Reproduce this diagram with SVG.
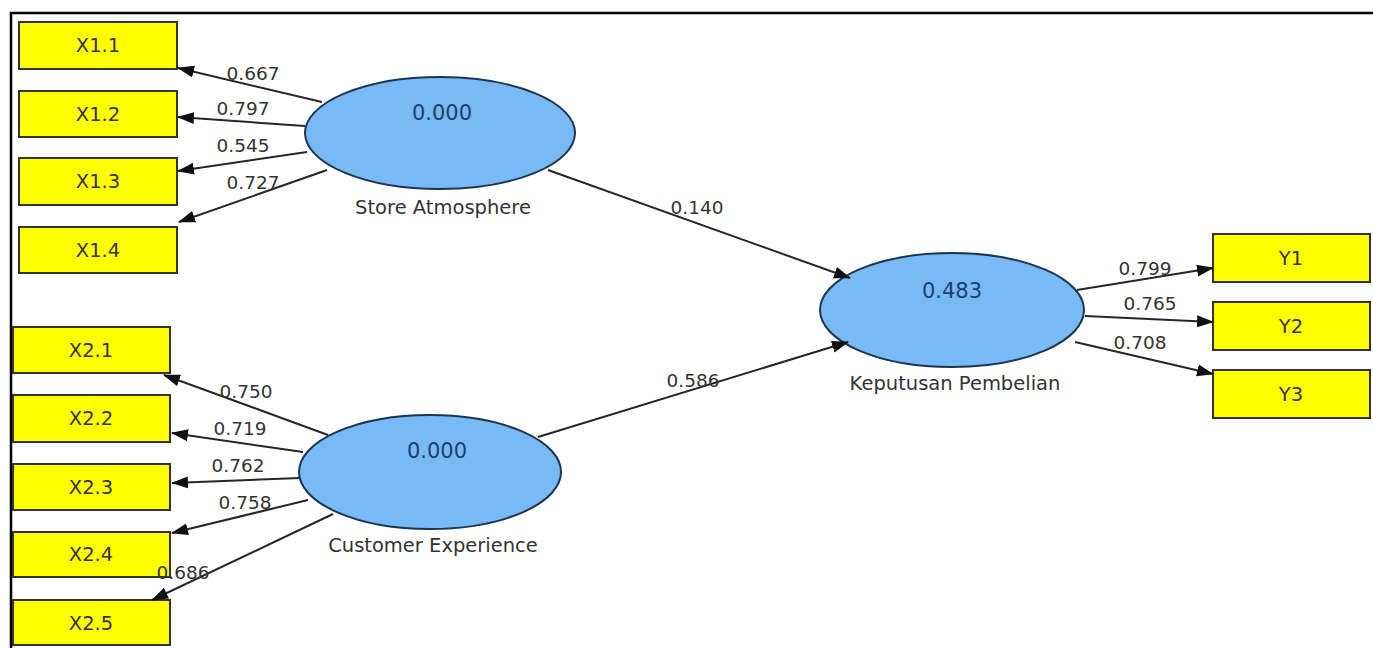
<svg xmlns="http://www.w3.org/2000/svg" width="1373" height="648" viewBox="0 0 1373 648">
<style>
.ind{fill:#ffff00;stroke:#333;stroke-width:2}
.lat{fill:#78baf5;stroke:#1c3650;stroke-width:2}
.t{font-family:"DejaVu Sans","Liberation Sans",sans-serif;font-size:19.5px;fill:#333;text-anchor:middle}
.n{font-family:"DejaVu Sans","Liberation Sans",sans-serif;font-size:19.5px;fill:#333;text-anchor:middle}
.v{font-family:"DejaVu Sans","Liberation Sans",sans-serif;font-size:21px;fill:#1d3f6e;text-anchor:middle}
.c{stroke:#262626;stroke-width:2;fill:none;marker-end:url(#ah)}
.w{font-family:"DejaVu Sans","Liberation Sans",sans-serif;font-size:18.5px;fill:#333;text-anchor:middle}
</style>
<defs>
<marker id="ah" markerUnits="userSpaceOnUse" markerWidth="17" markerHeight="13" refX="16" refY="6.5" orient="auto">
<path d="M0,0.5 L17,6.5 L0,12.5 Z" fill="#111"/>
</marker>
</defs>
<rect width="1373" height="648" fill="#fff"/>
<path d="M11,648 V13 H1373" fill="none" stroke="#000" stroke-width="2.5"/>

<g id="x11"><rect class="ind" x="19" y="22" width="158" height="47"/><text class="t" x="98" y="52">X1.1</text></g>
<g id="x12"><rect class="ind" x="19" y="91" width="158" height="46"/><text class="t" x="98" y="121">X1.2</text></g>
<g id="x13"><rect class="ind" x="19" y="158" width="158" height="47"/><text class="t" x="98" y="188">X1.3</text></g>
<g id="x14"><rect class="ind" x="19" y="227" width="158" height="46"/><text class="t" x="98" y="257">X1.4</text></g>

<g id="x21"><rect class="ind" x="13" y="327" width="157" height="46"/><text class="t" x="91" y="357">X2.1</text></g>
<g id="x22"><rect class="ind" x="13" y="395" width="157" height="47"/><text class="t" x="91" y="425">X2.2</text></g>
<g id="x23"><rect class="ind" x="13" y="464" width="157" height="46"/><text class="t" x="91" y="494">X2.3</text></g>
<g id="x24"><rect class="ind" x="13" y="532" width="157" height="45"/><text class="t" x="91" y="561">X2.4</text></g>
<g id="x25"><rect class="ind" x="13" y="600" width="157" height="45"/><text class="t" x="91" y="630">X2.5</text></g>

<g id="y1"><rect class="ind" x="1213" y="234" width="157" height="48"/><text class="t" x="1291" y="265">Y1</text></g>
<g id="y2"><rect class="ind" x="1213" y="302" width="157" height="48"/><text class="t" x="1291" y="333">Y2</text></g>
<g id="y3"><rect class="ind" x="1213" y="370" width="157" height="48"/><text class="t" x="1291" y="401">Y3</text></g>

<g id="store-atmosphere"><ellipse class="lat" cx="440" cy="133" rx="135" ry="56"/><text class="v" x="442" y="120">0.000</text><text class="n" x="443" y="214">Store Atmosphere</text></g>
<g id="customer-experience"><ellipse class="lat" cx="430" cy="472" rx="131" ry="57"/><text class="v" x="437" y="458">0.000</text><text class="n" x="433" y="552">Customer Experience</text></g>
<g id="keputusan-pembelian"><ellipse class="lat" cx="952" cy="310" rx="132" ry="57"/><text class="v" x="952" y="298">0.483</text><text class="n" x="955" y="390">Keputusan Pembelian</text></g>

<g id="connectors">
<line class="c" x1="322" y1="102" x2="178" y2="68"/>
<line class="c" x1="305" y1="126" x2="178" y2="117"/>
<line class="c" x1="307" y1="152" x2="178" y2="171"/>
<line class="c" x1="327" y1="170" x2="179" y2="222"/>
<line class="c" x1="328" y1="435" x2="164" y2="375"/>
<line class="c" x1="303" y1="452" x2="172" y2="433"/>
<line class="c" x1="300" y1="478" x2="172" y2="483"/>
<line class="c" x1="308" y1="500" x2="172" y2="533"/>
<line class="c" x1="333" y1="514" x2="152" y2="600"/>
<line class="c" x1="548" y1="170" x2="850" y2="278"/>
<line class="c" x1="538" y1="437" x2="848" y2="342"/>
<line class="c" x1="1077" y1="290" x2="1213" y2="268"/>
<line class="c" x1="1085" y1="316" x2="1213" y2="322"/>
<line class="c" x1="1075" y1="342" x2="1213" y2="374"/>
<text class="w" x="253" y="80">0.667</text>
<text class="w" x="243" y="115">0.797</text>
<text class="w" x="243" y="152">0.545</text>
<text class="w" x="253" y="189">0.727</text>
<text class="w" x="246" y="398">0.750</text>
<text class="w" x="240" y="435">0.719</text>
<text class="w" x="238" y="472">0.762</text>
<text class="w" x="245" y="509">0.758</text>
<text class="w" x="183" y="579">0.686</text>
<text class="w" x="697" y="214">0.140</text>
<text class="w" x="693" y="387">0.586</text>
<text class="w" x="1145" y="275">0.799</text>
<text class="w" x="1150" y="310">0.765</text>
<text class="w" x="1140" y="349">0.708</text>
</g>
</svg>
